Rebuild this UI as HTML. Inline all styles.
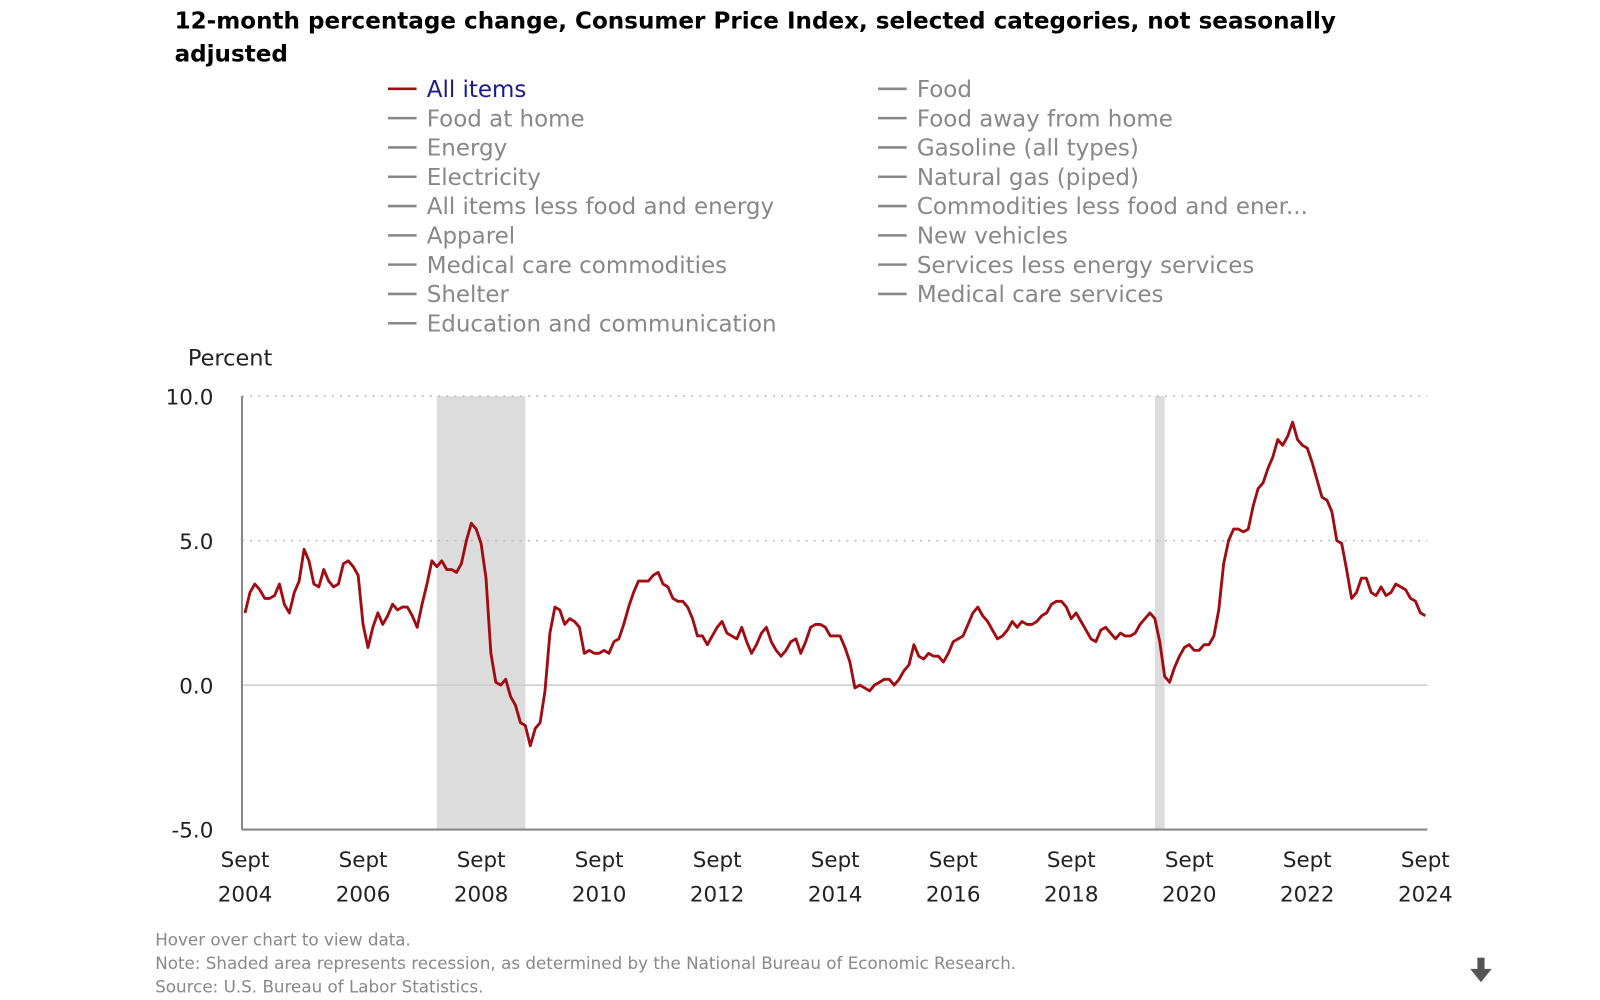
<!DOCTYPE html>
<html><head><meta charset="utf-8">
<style>
html,body{margin:0;padding:0;background:#fff;width:1600px;height:1000px;overflow:hidden;font-family:"DejaVu Sans","Liberation Sans",sans-serif}
svg{position:absolute;left:0;top:0}
text{font-family:"DejaVu Sans","Liberation Sans",sans-serif}
</style></head>
<body>
<svg id="chart" width="1600" height="1000">
<g transform="scale(1.021)">
<text x="171" y="28" font-size="22.6" font-weight="bold" fill="#000">12-month percentage change, Consumer Price Index, selected categories, not seasonally</text>
<text x="171" y="60" font-size="22.6" font-weight="bold" fill="#000">adjusted</text>
<g id="legend"></g>
<text x="184" y="358" font-size="22" fill="#222">Percent</text>
<g id="plot"></g>
<text x="152" y="926" font-size="16.4" fill="#888">Hover over chart to view data.</text>
<text x="152" y="949" font-size="16.4" fill="#888">Note: Shaded area represents recession, as determined by the National Bureau of Economic Research.</text>
<text x="152" y="972" font-size="16.4" fill="#888">Source: U.S. Bureau of Labor Statistics.</text>
<g>
<rect x="1447" y="938" width="7" height="12" fill="#555"/>
<polygon points="1440,949 1461,949 1450.5,962" fill="#555"/>
</g>
</g>
</svg>
<script>
const legendLeft=["All items","Food at home","Energy","Electricity","All items less food and energy","Apparel","Medical care commodities","Shelter","Education and communication"];
const legendRight=["Food","Food away from home","Gasoline (all types)","Natural gas (piped)","Commodities less food and ener...","New vehicles","Services less energy services","Medical care services"];
const yTicks=[10,5,0,-5];
const xTickYears=[2004,2006,2008,2010,2012,2014,2016,2018,2020,2022,2024];
const recessions=[[2007+11/12,2009+5/12],[2020+1/12,2020+3/12]];
const startYear=2004+8/12;
const allItems=[2.5,3.2,3.5,3.3,
3.0,3.0,3.1,3.5,2.8,2.5,3.2,3.6,4.7,4.3,3.5,3.4,
4.0,3.6,3.4,3.5,4.2,4.3,4.1,3.8,2.1,1.3,2.0,2.5,
2.1,2.4,2.8,2.6,2.7,2.7,2.4,2.0,2.8,3.5,4.3,4.1,
4.3,4.0,4.0,3.9,4.2,5.0,5.6,5.4,4.9,3.7,1.1,0.1,
0.0,0.2,-0.4,-0.7,-1.3,-1.4,-2.1,-1.5,-1.3,-0.2,1.8,2.7,
2.6,2.1,2.3,2.2,2.0,1.1,1.2,1.1,1.1,1.2,1.1,1.5,
1.6,2.1,2.7,3.2,3.6,3.6,3.6,3.8,3.9,3.5,3.4,3.0,
2.9,2.9,2.7,2.3,1.7,1.7,1.4,1.7,2.0,2.2,1.8,1.7,
1.6,2.0,1.5,1.1,1.4,1.8,2.0,1.5,1.2,1.0,1.2,1.5,
1.6,1.1,1.5,2.0,2.1,2.1,2.0,1.7,1.7,1.7,1.3,0.8,
-0.1,0.0,-0.1,-0.2,0.0,0.1,0.2,0.2,0.0,0.2,0.5,0.7,
1.4,1.0,0.9,1.1,1.0,1.0,0.8,1.1,1.5,1.6,1.7,2.1,
2.5,2.7,2.4,2.2,1.9,1.6,1.7,1.9,2.2,2.0,2.2,2.1,
2.1,2.2,2.4,2.5,2.8,2.9,2.9,2.7,2.3,2.5,2.2,1.9,
1.6,1.5,1.9,2.0,1.8,1.6,1.8,1.7,1.7,1.8,2.1,2.3,
2.5,2.3,1.5,0.3,0.1,0.6,1.0,1.3,1.4,1.2,1.2,1.4,
1.4,1.7,2.6,4.2,5.0,5.4,5.4,5.3,5.4,6.2,6.8,7.0,
7.5,7.9,8.5,8.3,8.6,9.1,8.5,8.3,8.2,7.7,7.1,6.5,
6.4,6.0,5.0,4.9,4.0,3.0,3.2,3.7,3.7,3.2,3.1,3.4,
3.1,3.2,3.5,3.4,3.3,3.0,2.9,2.5,2.4];

const NS="http://www.w3.org/2000/svg";
const X0=240,X1=1396,Y10=388,Y0=671;
function xScale(t){return X0+(t-startYear)/20*(X1-X0);}
function yScale(v){return Y0-(v/10)*(Y0-Y10);}
function mk(tag,attrs,parent){const e=document.createElementNS(NS,tag);for(const k in attrs)e.setAttribute(k,attrs[k]);parent.appendChild(e);return e;}

const lg=document.getElementById('legend');
legendLeft.forEach((s,i)=>{
  const g=mk('g',{},lg);
  
  
  const y=87+i*28.7;
  mk('line',{x1:380,x2:408,y1:y,y2:y,stroke:i===0?'#a10c12':'#888','stroke-width':2.5},g);
  const t=mk('text',{x:418,y:y+8,'font-size':22.5,fill:i===0?'#1a1a8c':'#888'},g);t.textContent=s;
});
legendRight.forEach((s,i)=>{
  const g=mk('g',{},lg);
  
  
  const y=87+i*28.7;
  mk('line',{x1:860,x2:888,y1:y,y2:y,stroke:'#888','stroke-width':2.5},g);
  const t=mk('text',{x:898,y:y+8,'font-size':22.5,fill:'#888'},g);t.textContent=s;
});

const plot=document.getElementById('plot');
recessions.forEach(r=>{
  const rc=mk('rect',{x:xScale(r[0]),y:yScale(10),width:Math.max(8,xScale(r[1])-xScale(r[0])),height:yScale(-5)-yScale(10),fill:'#dcdcdc'},plot);
  
  
});
yTicks.forEach(v=>{
  const y=yScale(v);
  if(v===10||v===5){const l=mk('line',{x1:237,x2:1398,y1:y,y2:y,stroke:'#bbb','stroke-width':1.5,'stroke-dasharray':'2,6'},plot);
    }
  if(v===0){const l=mk('line',{x1:237,x2:1398,y1:y,y2:y,stroke:'#ccc','stroke-width':1.5},plot);
    }
  const t=mk('text',{x:209,y:y+8,'font-size':21,fill:'#222','text-anchor':'end'},plot);
  
  
  t.textContent=v.toFixed(1);
});
const ax=mk('line',{x1:237,x2:237,y1:yScale(10),y2:yScale(-5),stroke:'#888','stroke-width':2},plot);

const bx=mk('line',{x1:237,x2:1398,y1:yScale(-5),y2:yScale(-5),stroke:'#888','stroke-width':2},plot);

xTickYears.forEach(yr=>{
  const x=xScale(yr+8/12);
  const t1=mk('text',{x:x,y:849,'font-size':21,fill:'#222','text-anchor':'middle'},plot);
  
  
  t1.textContent='Sept';
  const t2=mk('text',{x:x,y:883,'font-size':21,fill:'#222','text-anchor':'middle'},plot);
  
  
  t2.textContent=yr;
});
const pts=allItems.map((v,i)=>xScale(startYear+i/12).toFixed(1)+','+yScale(v).toFixed(1)).join(' ');
const line=mk('polyline',{points:pts,fill:'none',stroke:'#a10c12','stroke-width':2.8,'stroke-linejoin':'round'},plot);


</script>
</body></html>
